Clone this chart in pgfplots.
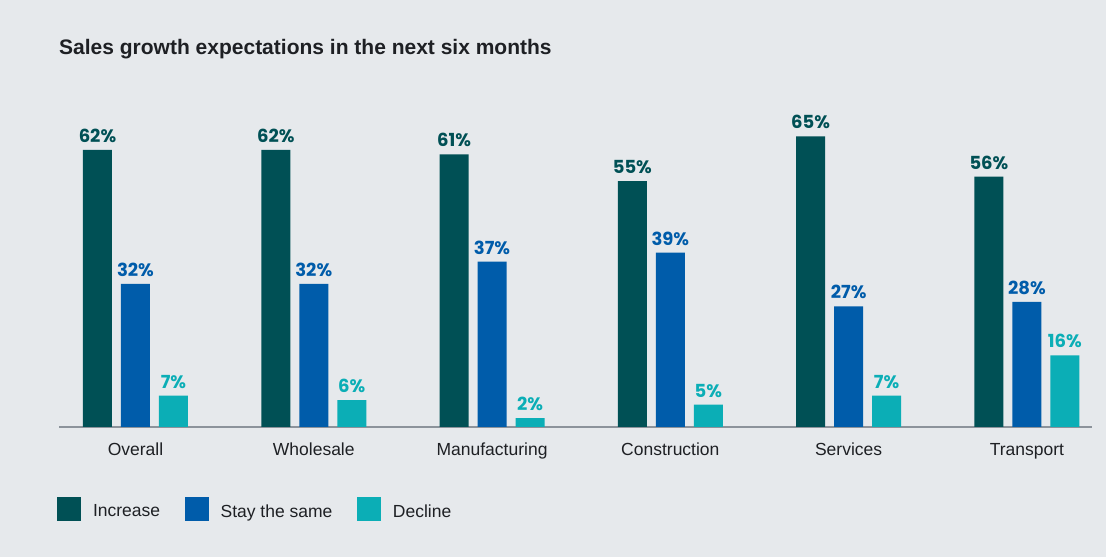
\documentclass[border=0pt]{standalone}
\usepackage{pgfplots}
\pgfplotsset{compat=1.18}
\usepackage{fontspec}
\setmainfont{Liberation Sans}
\newfontfamily\valfont{Poppins}

\definecolor{bg}{RGB}{230,233,236}
\definecolor{txt}{RGB}{30,32,36}
\definecolor{axc}{RGB}{140,147,155}
\definecolor{cInc}{RGB}{0,80,85}
\definecolor{cSame}{RGB}{0,92,170}
\definecolor{cDec}{RGB}{11,174,182}

\begin{document}
\begin{tikzpicture}[x=1pt,y=1pt]
% page background, 1 pt = 1 px
\fill[bg] (0,0) rectangle (1106,557);
\node[anchor=base west, inner sep=0pt, text=txt,
      font=\fontsize{21}{24}\selectfont\bfseries]
  at (59,502) {Sales growth expectations in the next six months};

\begin{axis}[
    at={(59pt,130pt)}, anchor=south west,
    scale only axis,
    width=1033pt, height=312.9pt,
    xmin=-0.429, xmax=5.365,
    ymin=0, ymax=70,
    clip=false,
    axis x line=bottom,
    axis y line=none,
    x axis line style={-, draw=axc, line width=1.4pt},
    ybar=9pt, bar width=29pt,
    xtick={0,...,5},
    xticklabels={Overall,Wholesale,Manufacturing,Construction,Services,Transport},
    xtick style={draw=none},
    major tick length=0pt,
    ytick=\empty,
    xticklabel style={anchor=base, inner sep=0pt, yshift=-29pt, text=txt,
                      font=\fontsize{17.5}{20}\selectfont},
    nodes near coords={\pgfmathprintnumber{\pgfplotspointmeta}\%},
    nodes near coords style={anchor=base, inner sep=0pt, yshift=7.5pt,
                             /pgf/number format/assume math mode=true,
                             font=\valfont\bfseries\fontsize{18}{20}\selectfont},
    legend image code/.code={\fill[#1] (0pt,-9.5pt) rectangle (24pt,14.5pt);},
    legend style={at={(axis description cs:0,0)}, anchor=north west,
                  xshift=-2pt, yshift=-70pt, draw=none, fill=none,
                  inner sep=0pt, outer sep=0pt, text=txt,
                  font=\fontsize{17.5}{20}\selectfont,
                  nodes={inner sep=0pt},
                  /tikz/every odd column/.append style={column sep=12pt},
                  /tikz/every even column/.append style={column sep=24.5pt}},
    legend columns=3,
    legend cell align=left,
]
% Increase
\addplot[fill=cInc, draw=none, every node near coord/.append style={text=cInc}]
  coordinates {(0,62) (1,62) (2,61) (3,55) (4,65) (5,56)};
\addlegendentry{Increase}
% Stay the same
\addplot[fill=cSame, draw=none, every node near coord/.append style={text=cSame}]
  coordinates {(0,32) (1,32) (2,37) (3,39) (4,27) (5,28)};
\addlegendentry{Stay the same}
% Decline
\addplot[fill=cDec, draw=none, every node near coord/.append style={text=cDec}]
  coordinates {(0,7) (1,6) (2,2) (3,5) (4,7) (5,16)};
\addlegendentry{Decline}
\end{axis}
\end{tikzpicture}
\end{document}
